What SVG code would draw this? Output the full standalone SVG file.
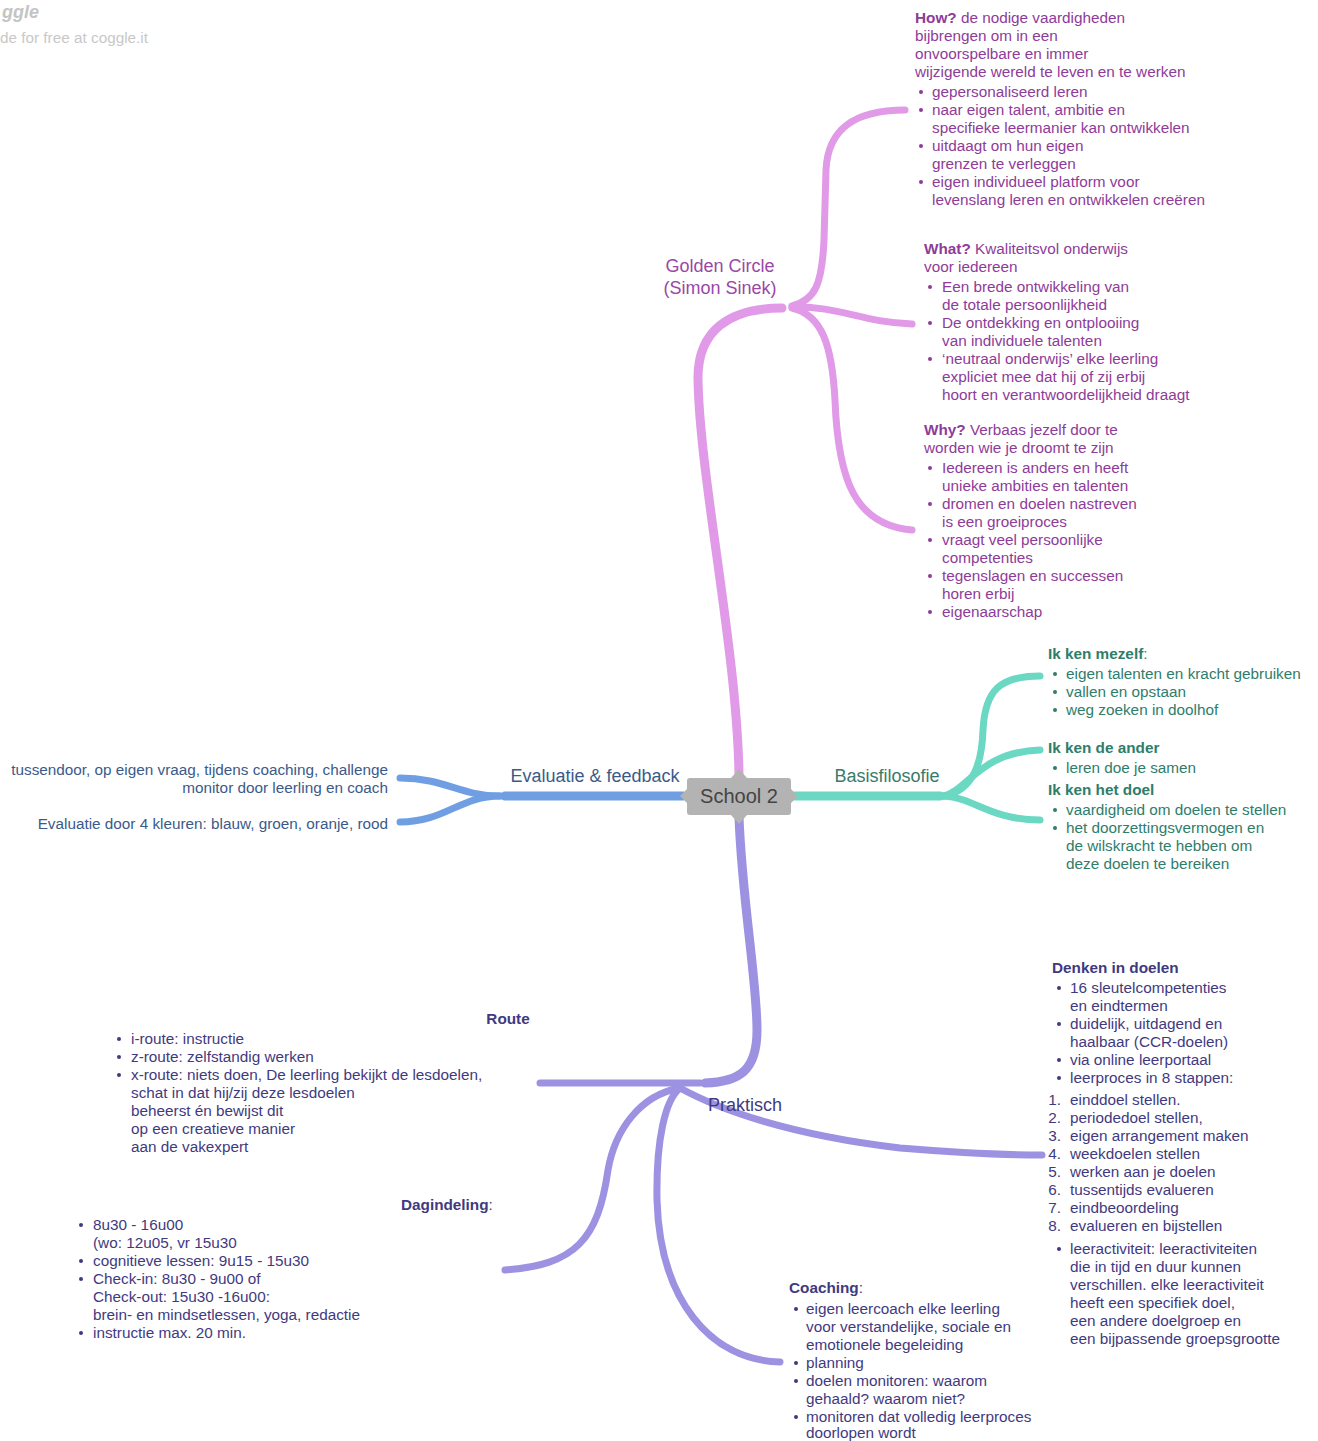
<svg xmlns="http://www.w3.org/2000/svg" width="1318" height="1441" viewBox="0 0 1318 1441">
<style>
text{font-family:"Liberation Sans",Arial,sans-serif;font-size:15.3px}
.b{font-weight:bold}
.lbl{font-size:18px}
.pk{fill:#8e3b99}.pkl{fill:#9a47a6}
.tl{fill:#2f7d6b}.tll{fill:#3a7a6b}
.bl{fill:#3b5a8a}
.lv{fill:#3f3a80}
.br{fill:none;stroke-linecap:round;stroke-linejoin:round}
.p{stroke:#e09ae7}.t{stroke:#6bd8c3}.u{stroke:#6f9fe2}.v{stroke:#9d91e2}
.m{stroke-width:9}.s{stroke-width:7}
.dp{fill:#8e3b99}.dt{fill:#2f7d6b}.db{fill:#3b5a8a}.dv{fill:#3f3a80}
</style>
<rect width="1318" height="1441" fill="#ffffff"/>
<g id="watermark">
<text x="2" y="18" style="font-size:18px;font-style:italic;font-weight:bold;fill:#c4c4c4">ggle</text>
<text x="0" y="43" style="fill:#c8c8c8">de for free at coggle.it</text>
</g>
<g id="connectors">
<path class="br p m" d="M739,775 C737,650 700,480 698,380 C697,330 730,308 782,308"/>
<path class="br p s" d="M792,306 C815,300 822,285 824,240 L826,170 C828,125 860,110 905,110"/>
<path class="br p s" d="M792,307 C840,306 860,322 912,324"/>
<path class="br p s" d="M792,308 C822,315 832,345 835,400 C838,480 855,525 912,530"/>
<path class="br t m" d="M795,796 L940,796"/>
<path class="br t s" d="M944,796 C975,790 982,760 983,730 C985,690 1000,676 1040,676"/>
<path class="br t s" d="M944,796 C968,790 980,752 1040,750"/>
<path class="br t s" d="M944,796 C975,798 990,820 1040,820"/>
<path class="br u m" d="M683,796 L505,796"/>
<path class="br u s" d="M500,796 C460,796 445,778 400,778"/>
<path class="br u s" d="M500,796 C460,796 445,822 400,822"/>
<path class="br v m" d="M739,817 C742,900 757,980 757,1030 C757,1070 740,1082 705,1083"/>
<path class="br v s" d="M700,1083 L540,1083"/>
<path class="br v s" d="M680,1088 C720,1110 790,1135 900,1148 C960,1153 1000,1155 1042,1155"/>
<path class="br v s" d="M680,1088 C640,1095 615,1130 608,1170 C598,1240 575,1265 505,1270"/>
<path class="br v s" d="M680,1088 C665,1100 656,1140 657,1200 C660,1300 710,1360 780,1362"/>
</g>
<g id="school2">
<path d="M690,778 L731,778 L739,769 L747,778 L788,778 Q791,778 791,781 L791,789 L798,796 L791,803 L791,812 Q791,815 788,815 L747,815 L739,824 L731,815 L690,815 Q687,815 687,812 L687,803 L680,796 L687,789 L687,781 Q687,778 690,778 Z" fill="#b3b3b3"/>
<text x="739" y="803" text-anchor="middle" style="font-size:20px;fill:#444444">School 2</text>
</g>
<g id="golden-circle">
<text class="lbl pkl" x="720" y="272" text-anchor="middle">Golden Circle</text>
<text class="lbl pkl" x="720" y="294" text-anchor="middle">(Simon Sinek)</text>
</g>
<g id="how" class="pk">
<text x="915" y="23"><tspan class="b">How?</tspan> de nodige vaardigheden</text>
<text x="915" y="41">bijbrengen om in een</text>
<text x="915" y="59">onvoorspelbare en immer</text>
<text x="915" y="77">wijzigende wereld te leven en te werken</text>
<circle class="dp" cx="921" cy="92" r="2"/><text x="932" y="97">gepersonaliseerd leren</text>
<circle class="dp" cx="921" cy="110" r="2"/><text x="932" y="115">naar eigen talent, ambitie en</text>
<text x="932" y="133">specifieke leermanier kan ontwikkelen</text>
<circle class="dp" cx="921" cy="146" r="2"/><text x="932" y="151">uitdaagt om hun eigen</text>
<text x="932" y="169">grenzen te verleggen</text>
<circle class="dp" cx="921" cy="182" r="2"/><text x="932" y="187">eigen individueel platform voor</text>
<text x="932" y="205">levenslang leren en ontwikkelen creëren</text>
</g>
<g id="what" class="pk">
<text x="924" y="254"><tspan class="b">What?</tspan> Kwaliteitsvol onderwijs</text>
<text x="924" y="272">voor iedereen</text>
<circle class="dp" cx="930" cy="287" r="2"/><text x="942" y="292">Een brede ontwikkeling van</text>
<text x="942" y="310">de totale persoonlijkheid</text>
<circle class="dp" cx="930" cy="323" r="2"/><text x="942" y="328">De ontdekking en ontplooiing</text>
<text x="942" y="346">van individuele talenten</text>
<circle class="dp" cx="930" cy="359" r="2"/><text x="942" y="364">‘neutraal onderwijs’ elke leerling</text>
<text x="942" y="382">expliciet mee dat hij of zij erbij</text>
<text x="942" y="400">hoort en verantwoordelijkheid draagt</text>
</g>
<g id="why" class="pk">
<text x="924" y="435"><tspan class="b">Why?</tspan> Verbaas jezelf door te</text>
<text x="924" y="453">worden wie je droomt te zijn</text>
<circle class="dp" cx="930" cy="468" r="2"/><text x="942" y="473">Iedereen is anders en heeft</text>
<text x="942" y="491">unieke ambities en talenten</text>
<circle class="dp" cx="930" cy="504" r="2"/><text x="942" y="509">dromen en doelen nastreven</text>
<text x="942" y="527">is een groeiproces</text>
<circle class="dp" cx="930" cy="540" r="2"/><text x="942" y="545">vraagt veel persoonlijke</text>
<text x="942" y="563">competenties</text>
<circle class="dp" cx="930" cy="576" r="2"/><text x="942" y="581">tegenslagen en successen</text>
<text x="942" y="599">horen erbij</text>
<circle class="dp" cx="930" cy="612" r="2"/><text x="942" y="617">eigenaarschap</text>
</g>
<g id="basisfilosofie">
<text class="lbl tll" x="887" y="782" text-anchor="middle">Basisfilosofie</text>
</g>
<g id="basis-items" class="tl">
<text x="1048" y="659"><tspan class="b">Ik ken mezelf</tspan>:</text>
<circle class="dt" cx="1055" cy="674" r="2"/><text x="1066" y="679">eigen talenten en kracht gebruiken</text>
<circle class="dt" cx="1055" cy="692" r="2"/><text x="1066" y="697">vallen en opstaan</text>
<circle class="dt" cx="1055" cy="710" r="2"/><text x="1066" y="715">weg zoeken in doolhof</text>
<text class="b" x="1048" y="753">Ik ken de ander</text>
<circle class="dt" cx="1055" cy="768" r="2"/><text x="1066" y="773">leren doe je samen</text>
<text class="b" x="1048" y="795">Ik ken het doel</text>
<circle class="dt" cx="1055" cy="810" r="2"/><text x="1066" y="815">vaardigheid om doelen te stellen</text>
<circle class="dt" cx="1055" cy="828" r="2"/><text x="1066" y="833">het doorzettingsvermogen en</text>
<text x="1066" y="851">de wilskracht te hebben om</text>
<text x="1066" y="869">deze doelen te bereiken</text>
</g>
<g id="evaluatie">
<text class="lbl bl" x="595" y="782" text-anchor="middle">Evaluatie &amp; feedback</text>
</g>
<g id="evaluatie-items" class="bl">
<text x="388" y="775" text-anchor="end">tussendoor, op eigen vraag, tijdens coaching, challenge</text>
<text x="388" y="793" text-anchor="end">monitor door leerling en coach</text>
<text x="388" y="829" text-anchor="end">Evaluatie door 4 kleuren: blauw, groen, oranje, rood</text>
</g>
<g id="praktisch">
<text class="lbl lv" x="708" y="1111">Praktisch</text>
</g>
<g id="route" class="lv">
<text class="b" x="508" y="1024" text-anchor="middle">Route</text>
<circle class="dv" cx="119" cy="1039" r="2"/><text x="131" y="1044">i-route: instructie</text>
<circle class="dv" cx="119" cy="1057" r="2"/><text x="131" y="1062">z-route: zelfstandig werken</text>
<circle class="dv" cx="119" cy="1075" r="2"/><text x="131" y="1080">x-route: niets doen, De leerling bekijkt de lesdoelen,</text>
<text x="131" y="1098">schat in dat hij/zij deze lesdoelen</text>
<text x="131" y="1116">beheerst én bewijst dit</text>
<text x="131" y="1134">op een creatieve manier</text>
<text x="131" y="1152">aan de vakexpert</text>
</g>
<g id="dagindeling" class="lv">
<text x="401" y="1210"><tspan class="b">Dagindeling</tspan>:</text>
<circle class="dv" cx="81" cy="1225" r="2"/><text x="93" y="1230">8u30 - 16u00</text>
<text x="93" y="1248">(wo: 12u05, vr 15u30</text>
<circle class="dv" cx="81" cy="1261" r="2"/><text x="93" y="1266">cognitieve lessen: 9u15 - 15u30</text>
<circle class="dv" cx="81" cy="1279" r="2"/><text x="93" y="1284">Check-in: 8u30 - 9u00 of</text>
<text x="93" y="1302">Check-out: 15u30 -16u00:</text>
<text x="93" y="1320">brein- en mindsetlessen, yoga, redactie</text>
<circle class="dv" cx="81" cy="1333" r="2"/><text x="93" y="1338">instructie max. 20 min.</text>
</g>
<g id="coaching" class="lv">
<text x="789" y="1293"><tspan class="b">Coaching</tspan>:</text>
<circle class="dv" cx="796" cy="1309" r="2"/><text x="806" y="1314">eigen leercoach elke leerling</text>
<text x="806" y="1332">voor verstandelijke, sociale en</text>
<text x="806" y="1350">emotionele begeleiding</text>
<circle class="dv" cx="796" cy="1363" r="2"/><text x="806" y="1368">planning</text>
<circle class="dv" cx="796" cy="1381" r="2"/><text x="806" y="1386">doelen monitoren: waarom</text>
<text x="806" y="1404">gehaald? waarom niet?</text>
<circle class="dv" cx="796" cy="1417" r="2"/><text x="806" y="1422">monitoren dat volledig leerproces</text>
<text x="806" y="1438">doorlopen wordt</text>
</g>
<g id="denken-in-doelen" class="lv">
<text class="b" x="1052" y="973">Denken in doelen</text>
<circle class="dv" cx="1059" cy="988" r="2"/><text x="1070" y="993">16 sleutelcompetenties</text>
<text x="1070" y="1011">en eindtermen</text>
<circle class="dv" cx="1059" cy="1024" r="2"/><text x="1070" y="1029">duidelijk, uitdagend en</text>
<text x="1070" y="1047">haalbaar (CCR-doelen)</text>
<circle class="dv" cx="1059" cy="1060" r="2"/><text x="1070" y="1065">via online leerportaal</text>
<circle class="dv" cx="1059" cy="1078" r="2"/><text x="1070" y="1083">leerproces in 8 stappen:</text>
<text x="1061" y="1105" text-anchor="end">1.</text><text x="1070" y="1105">einddoel stellen.</text>
<text x="1061" y="1123" text-anchor="end">2.</text><text x="1070" y="1123">periodedoel stellen,</text>
<text x="1061" y="1141" text-anchor="end">3.</text><text x="1070" y="1141">eigen arrangement maken</text>
<text x="1061" y="1159" text-anchor="end">4.</text><text x="1070" y="1159">weekdoelen stellen</text>
<text x="1061" y="1177" text-anchor="end">5.</text><text x="1070" y="1177">werken aan je doelen</text>
<text x="1061" y="1195" text-anchor="end">6.</text><text x="1070" y="1195">tussentijds evalueren</text>
<text x="1061" y="1213" text-anchor="end">7.</text><text x="1070" y="1213">eindbeoordeling</text>
<text x="1061" y="1231" text-anchor="end">8.</text><text x="1070" y="1231">evalueren en bijstellen</text>
<circle class="dv" cx="1059" cy="1249" r="2"/><text x="1070" y="1254">leeractiviteit: leeractiviteiten</text>
<text x="1070" y="1272">die in tijd en duur kunnen</text>
<text x="1070" y="1290">verschillen. elke leeractiviteit</text>
<text x="1070" y="1308">heeft een specifiek doel,</text>
<text x="1070" y="1326">een andere doelgroep en</text>
<text x="1070" y="1344">een bijpassende groepsgrootte</text>
</g>
</svg>
